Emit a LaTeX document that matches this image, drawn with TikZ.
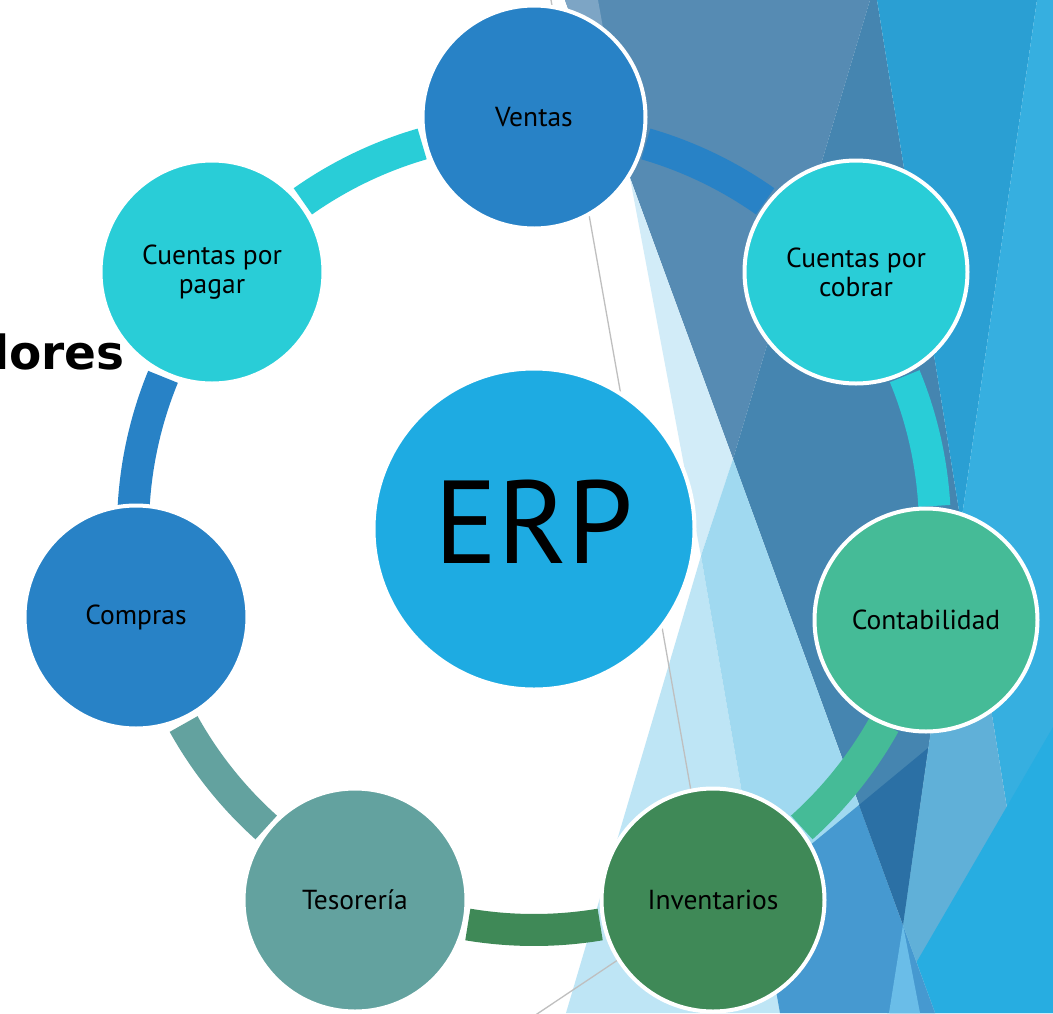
\documentclass[tikz,border=0pt]{standalone}
\usepackage{fontspec}
\setmainfont{PT Sans}
\newfontfamily\lorefont{DejaVu Sans}
\usetikzlibrary{calc}
\definecolor{bgA}{HTML}{568BB3}
\definecolor{bgAl}{HTML}{7DA5C5}
\definecolor{steel}{HTML}{4585B0}
\definecolor{bgB}{HTML}{2A9FD3}
\definecolor{bgC}{HTML}{36AFE0}
\definecolor{bgD}{HTML}{60B0D8}
\definecolor{bgE}{HTML}{27ADE1}
\definecolor{band}{HTML}{D2ECF8}
\definecolor{bandB}{HTML}{BEE5F5}
\definecolor{bandC}{HTML}{A0D9F0}
\definecolor{medB}{HTML}{4699D0}
\definecolor{darkB}{HTML}{2B70A5}
\definecolor{lightT}{HTML}{6ABDE8}
\definecolor{cBlue}{HTML}{2882C6}
\definecolor{cCyan}{HTML}{29CDD7}
\definecolor{cGreen}{HTML}{45BB97}
\definecolor{cDGreen}{HTML}{3F8957}
\definecolor{cTeal}{HTML}{63A29F}
\definecolor{cERP}{HTML}{1EABE2}
\definecolor{thin}{HTML}{BFBFBF}
\tikzset{
  mod/.style={circle, draw=white, line width=4pt, minimum size=223pt, inner sep=0pt,
    text=black, font=\fontsize{27.5}{29}\selectfont, align=center},
  ringarc/.style={line width=32pt},
  thinline/.style={draw=thin, line width=1.3pt}
}
\begin{document}
\begin{tikzpicture}[x=1pt,y=-1pt]
\useasboundingbox (0,0) rectangle (1053,1013);
\clip (0,0) rectangle (1053,1013);
\fill[white] (0,0) rectangle (1053,1013);
% background facets
\fill[bgA] (565,0) -- (870,0) -- (733,459) -- cycle;
\fill[bgAl] (565,0) -- (598,0) -- (630,178) -- cycle;
\fill[steel] (870,0) -- (877,0) -- (961,523) -- (903,925) -- (733,459) -- cycle;
\fill[bgB] (877,0) -- (1037,0) -- (961,523) -- cycle;
\fill[bgC] (1037,0) -- (1053,0) -- (1053,1013) -- (1040,1013) -- (961,523) -- cycle;
\fill[bgD] (961,523) -- (1040,1013) -- (890,1013) -- cycle;
\fill[bgE] (1053,727) -- (1053,1013) -- (887,1013) -- cycle;
\fill[band] (630,178) -- (733,459) -- (701,556) -- cycle;
\fill[bandB] (701,556) -- (566,1013) -- (780,1013) -- cycle;
\fill[bandC] (733,459) -- (935,1013) -- (780,1013) -- (701,556) -- cycle;
\fill[medB] (758,888) -- (859,805) -- (935,1013) -- (780,1013) -- cycle;
\fill[darkB] (859,805) -- (928,748) -- (903,925) -- cycle;
\fill[lightT] (903,925) -- (920,1013) -- (889,1013) -- cycle;
% thin lines
\coordinate (g1a) at (551,0);
\coordinate (g1b) at (705,870);
\coordinate (g2a) at (528,1020);
\coordinate (g2b) at (700,905);
\draw[thinline] (g1a) -- (g1b);
\draw[thinline] (g2a) -- (g2b);
% ring arcs
\coordinate (c) at (534,529);
\draw[ringarc, cBlue]   ($(c)+(73.8:401pt)$)  arc[start angle=73.8,  end angle=54.8,  radius=401pt];
\draw[ringarc, cCyan]   ($(c)+(22.4:401pt)$)  arc[start angle=22.4,  end angle=3.3,   radius=401pt];
\draw[ringarc, cGreen]  ($(c)+(-29.1:401pt)$) arc[start angle=-29.1, end angle=-48.1, radius=401pt];
\draw[ringarc, cDGreen] ($(c)+(-80.5:401pt)$) arc[start angle=-80.5, end angle=-99.5, radius=401pt];
\draw[ringarc, cTeal]   ($(c)+(-131.9:401pt)$) arc[start angle=-131.9, end angle=-150.9, radius=401pt];
\draw[ringarc, cBlue]   ($(c)+(176.7:401pt)$) arc[start angle=176.7, end angle=157.7, radius=401pt];
\draw[ringarc, cCyan]   ($(c)+(125.2:401pt)$) arc[start angle=125.2, end angle=106.2, radius=401pt];
% nodes
\node[circle, draw=white, line width=4pt, minimum size=321pt, inner sep=0pt, fill=cERP,
  text depth=14pt, font=\fontsize{118}{118}\selectfont] (erp) at (534,529) {ERP};
\node[mod, fill=cBlue]   (ventas)  at (534,117) {Ventas};
\node[mod, fill=cCyan]   (cobrar)  at (856,272) {Cuentas por\\cobrar};
\node[mod, fill=cGreen]  (contab)  at (926,620) {Contabilidad};
\node[mod, fill=cDGreen] (invent)  at (713,900) {Inventarios};
\node[mod, fill=cTeal]   (tesor)   at (355,900) {Tesorería};
\node[mod, fill=cBlue]   (compras) at (136,617) {Compras};
\node[mod, fill=cCyan]   (pagar)   at (212,272) {Cuentas por\\pagar};
% clipped title fragment
\node[anchor=base east, inner sep=0pt, font=\lorefont\bfseries\fontsize{47}{47}\selectfont] (lores) at (125,369) {lores};
\end{tikzpicture}
\end{document}
